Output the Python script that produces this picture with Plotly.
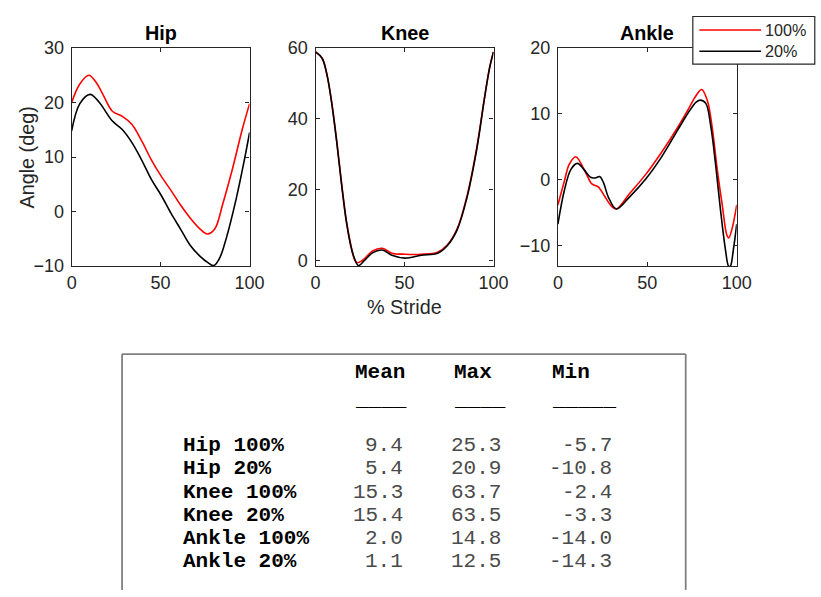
import plotly.graph_objects as go

W, H = 821, 597

# ---------------- data ----------------
hip_100_x = [0, 4.6, 9.7, 13.7, 17.4, 22.9, 28.3, 33.8, 39.3, 44.8, 50.3, 55.8, 61.2, 66.7, 72.2, 76.2, 80.4, 85.0, 90.5, 95.9, 100]
hip_100_y = [20.0, 23.4, 25.0, 23.7, 21.6, 18.4, 17.5, 16.0, 13.0, 9.5, 6.5, 3.9, 1.2, -1.2, -3.2, -4.1, -3.2, 1.5, 8.0, 15.1, 19.8]
hip_20_x = [0, 4.6, 10.4, 14.6, 17.4, 22.9, 28.3, 33.8, 39.3, 44.8, 50.3, 55.8, 61.2, 66.7, 72.2, 76.8, 79.9, 83.2, 86.8, 92.3, 96.9, 100]
hip_20_y = [14.8, 19.8, 21.5, 20.4, 19.2, 16.6, 15.1, 12.7, 9.5, 5.9, 3.0, -0.3, -3.2, -6.2, -8.2, -9.4, -9.9, -8.5, -5.0, 2.1, 9.2, 14.5]

knee_100_x = [0, 3.7, 6.4, 9.1, 11.9, 14.6, 17.4, 20.1, 21.9, 23.2, 25.5, 27.4, 32, 37.5, 42.9, 50.3, 59.4, 68.6, 74, 79.5, 85, 90.5, 95, 97.8, 100]
knee_100_y = [58.9, 57.1, 52.5, 44.6, 33.8, 22.0, 11.0, 3.8, 0.3, -0.6, -0.2, 0.5, 2.7, 3.5, 2.1, 1.8, 1.8, 2.4, 4.4, 8.9, 18.0, 31.6, 46.2, 54.4, 58.9]
knee_20_x = [0, 3.7, 6.4, 9.1, 11.9, 14.6, 17.4, 20.1, 21.9, 24.1, 27.4, 32, 37.5, 42.9, 50.3, 59.4, 68.6, 74, 79.5, 85, 90.5, 95, 97.8, 100]
knee_20_y = [58.9, 57.1, 52.5, 44.4, 33.5, 21.6, 10.7, 3.5, 0.6, -1.4, 0.0, 2.2, 3.0, 1.5, 0.7, 1.5, 2.1, 4.2, 8.6, 17.6, 31.2, 46.0, 54.4, 58.9]

ankle_100_x = [0, 3.6, 6.4, 10, 15.5, 19, 22.7, 26.4, 30, 32.7, 40, 49, 58, 67.3, 72.7, 77.3, 80.4, 83.6, 86.4, 89, 91.8, 94.5, 95.5, 97.3, 100]
ankle_100_y = [-3.8, -0.2, 2.4, 3.5, 1.1, -0.6, -1.1, -2.6, -4.0, -4.4, -2.1, 0.8, 4.2, 8.1, 10.6, 12.8, 13.7, 12.0, 7.7, 1.8, -3.6, -8.4, -8.8, -7.5, -3.8]
ankle_20_x = [0, 3.6, 7.3, 10.9, 14.5, 18.2, 20.9, 23.3, 25.5, 28.2, 32.7, 40, 49, 58, 67.3, 72.7, 77.3, 79.6, 82.7, 85.5, 88.2, 90.9, 93.6, 95.5, 96.4, 98.2, 100]
ankle_20_y = [-6.7, -1.6, 1.6, 2.5, 1.6, 0.4, 0.3, 0.5, -0.4, -2.6, -4.4, -2.6, 0.1, 3.5, 7.7, 10.1, 11.8, 12.1, 11.6, 8.1, 2.3, -4.5, -10.4, -13.1, -13.1, -10.4, -6.7]

panel_titles = ["Hip", "Knee", "Ankle"]
series_names = ["100%", "20%"]
series_colors = ["#ff0000", "#000000"]

hip_ticks = [-10, 0, 10, 20, 30]
knee_ticks = [0, 20, 40, 60]
ankle_ticks = [-10, 0, 10, 20]
x_ticks = [0, 50, 100]

table_rows = ["Hip 100%", "Hip 20%", "Knee 100%", "Knee 20%", "Ankle 100%", "Ankle 20%"]
table_cols = ["Mean", "Max", "Min"]
mean_vals = ["9.4", "5.4", "15.3", "15.4", "2.0", "1.1"]
max_vals = ["25.3", "20.9", "63.7", "63.5", "14.8", "12.5"]
min_vals = ["-5.7", "-10.8", "-2.4", "-3.3", "-14.0", "-14.3"]

# ---------------- helpers ----------------
def px(x):
    return x / W

def py(y):
    return 1 - y / H

SANS = "Liberation Sans, Arial, Helvetica, sans-serif"
MONO = "Courier New, Liberation Mono, monospace"
AX = "#262626"

fig = go.Figure()

panels = [
    (hip_100_x, hip_100_y, hip_20_x, hip_20_y, "x", "y"),
    (knee_100_x, knee_100_y, knee_20_x, knee_20_y, "x2", "y2"),
    (ankle_100_x, ankle_100_y, ankle_20_x, ankle_20_y, "x3", "y3"),
]
for i, (x1, y1, x2, y2, xa, ya) in enumerate(panels):
    fig.add_trace(go.Scatter(x=x1, y=y1, mode="lines", name=series_names[0],
                             line=dict(color=series_colors[0], width=1.6, shape="spline", smoothing=1.0),
                             xaxis=xa, yaxis=ya, showlegend=False))
    fig.add_trace(go.Scatter(x=x2, y=y2, mode="lines", name=series_names[1],
                             line=dict(color=series_colors[1], width=1.6, shape="spline", smoothing=1.0),
                             xaxis=xa, yaxis=ya, showlegend=False))

def axis_common():
    return dict(showline=True, linecolor=AX, linewidth=1.2, mirror="ticks",
                ticks="inside", ticklen=4, tickcolor=AX, tickwidth=1,
                showgrid=False, zeroline=False,
                tickfont=dict(family=SANS, size=18, color=AX))

top, bot = 39.3, 265.0
ydom = [py(bot), py(top)]
xdoms = [(68.3, 250.7), (318.3, 500.7), (566.7, 750.0)]
yranges = [[-10, 30], [-1.55, 60], [-13.07, 20]]
yticks = [hip_ticks, knee_ticks, ankle_ticks]

for i in range(3):
    sfx = "" if i == 0 else str(i + 1)
    xa = axis_common()
    xa.update(domain=[px(xdoms[i][0]), px(xdoms[i][1])], range=[0, 100],
              tickvals=x_ticks, anchor="y" + sfx)
    ya = axis_common()
    ya.update(domain=ydom, range=yranges[i], tickvals=yticks[i], anchor="x" + sfx,
              ticklabelstandoff=3)
    fig.layout["xaxis" + sfx] = xa
    fig.layout["yaxis" + sfx] = ya

annotations = []
# panel titles
for i, t in enumerate(panel_titles):
    cx = (xdoms[i][0] + xdoms[i][1]) / 2
    annotations.append(dict(x=px(cx), y=py(24), xref="paper", yref="paper", text="<b>%s</b>" % t,
                            showarrow=False, xanchor="center", yanchor="middle",
                            font=dict(family=SANS, size=19.8, color="#000000")))
# axis labels
annotations.append(dict(x=px(23), y=py((top + bot) / 2), xref="paper", yref="paper", text="Angle (deg)",
                        showarrow=False, textangle=-90, xanchor="center", yanchor="middle",
                        font=dict(family=SANS, size=19.8, color=AX)))
annotations.append(dict(x=px((xdoms[1][0] + xdoms[1][1]) / 2), y=py(307.6), xref="paper", yref="paper",
                        text="% Stride", showarrow=False, xanchor="center", yanchor="middle",
                        font=dict(family=SANS, size=19.8, color=AX)))

shapes = []
# legend (drawn manually to match the box geometry)
shapes.append(dict(type="rect", xref="paper", yref="paper", x0=px(705), x1=px(830), y0=py(56), y1=py(6.7),
                   line=dict(color=AX, width=1.2), fillcolor="white", layer="above"))
leg_y = [20.7, 42.7]
for k in range(2):
    shapes.append(dict(type="line", xref="paper", yref="paper", x0=px(711.7), x1=px(775),
                       y0=py(leg_y[k]), y1=py(leg_y[k]), line=dict(color=series_colors[k], width=1.4), layer="above"))
    annotations.append(dict(x=px(777), y=py(leg_y[k]), xref="paper", yref="paper", text=series_names[k],
                            showarrow=False, xanchor="left", yanchor="middle",
                            font=dict(family=SANS, size=16.2, color=AX)))

# table box (open at the bottom, extends past the picture)
TB = "#808080"
BX0, BX1, BY0 = 120.0, 697.7, 356.0
shapes.append(dict(type="line", xref="paper", yref="paper", x0=px(BX0), x1=px(BX1), y0=py(BY0), y1=py(BY0),
                   line=dict(color=TB, width=1.8)))
shapes.append(dict(type="line", xref="paper", yref="paper", x0=px(BX0), x1=px(BX0), y0=py(BY0), y1=py(600),
                   line=dict(color=TB, width=1.8)))
shapes.append(dict(type="line", xref="paper", yref="paper", x0=px(BX1), x1=px(BX1), y0=py(BY0), y1=py(600),
                   line=dict(color=TB, width=1.8)))

# table text on a monospace grid
TFS = 21.0
x0g, cw = 181.4, 12.62
col_start = [14, 22, 30]
col_end = [18, 26, 35]
under_len = [4, 4, 5]
hdr_y = 375.4
und_y = 404.5
row_y0, row_dy = 450.9, 24.0
for j, c in enumerate(table_cols):
    annotations.append(dict(x=px(x0g + col_start[j] * cw), y=py(hdr_y), xref="paper", yref="paper",
                            text="<b>%s</b>" % c, showarrow=False, xanchor="left", yanchor="middle",
                            borderpad=0, font=dict(family=MONO, size=TFS, color="#000000")))
    annotations.append(dict(x=px(x0g + col_start[j] * cw), y=py(und_y), xref="paper", yref="paper",
                            text="<b>%s</b>" % ("_" * under_len[j]), showarrow=False, xanchor="left",
                            yanchor="middle", borderpad=0, font=dict(family=MONO, size=TFS, color="#000000")))
cols_vals = [mean_vals, max_vals, min_vals]
for r, lab in enumerate(table_rows):
    yy = row_y0 + r * row_dy
    annotations.append(dict(x=px(x0g), y=py(yy), xref="paper", yref="paper", text="<b>%s</b>" % lab,
                            showarrow=False, xanchor="left", yanchor="middle", borderpad=0,
                            font=dict(family=MONO, size=TFS, color="#000000")))
    for j in range(3):
        annotations.append(dict(x=px(x0g + col_end[j] * cw), y=py(yy), xref="paper", yref="paper",
                                text=cols_vals[j][r], showarrow=False, xanchor="right", yanchor="middle",
                                borderpad=0, font=dict(family=MONO, size=TFS, color="#4a4a4a")))

fig.update_layout(width=W, height=H, margin=dict(l=0, r=0, t=0, b=0),
                  paper_bgcolor="white", plot_bgcolor="white",
                  showlegend=False, annotations=annotations, shapes=shapes)

# the page's default 8px body margin would shift the figure; remove it
fig.write_html("out.html",
               post_script="document.documentElement.style.margin='0';document.body.style.margin='0';"
                           "document.body.style.padding='0';document.body.style.overflow='hidden';")
